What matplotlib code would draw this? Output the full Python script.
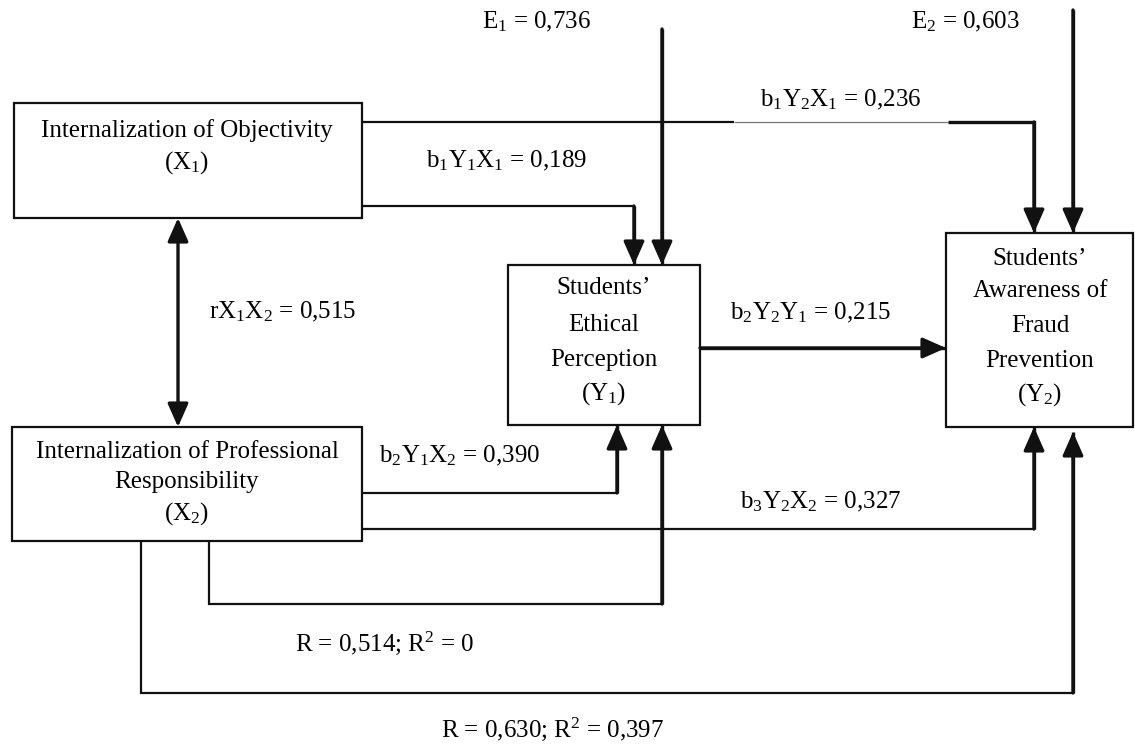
import matplotlib
matplotlib.use("Agg")
import matplotlib.pyplot as plt
from matplotlib.patches import Rectangle

plt.rcParams['font.family'] = ['Liberation Serif', 'DejaVu Serif']
plt.rcParams['mathtext.fontset'] = 'custom'
plt.rcParams['mathtext.rm'] = 'Liberation Serif'
plt.rcParams['mathtext.it'] = 'Liberation Serif:italic'
plt.rcParams['mathtext.default'] = 'rm'

# variables (box labels)
x1_label = ["Internalization of Objectivity", r"(X$_1$)"]
x2_label = ["Internalization of Professional", "Responsibility", r"(X$_2$)"]
y1_label = ["Students\u2019", "Ethical", "Perception", r"(Y$_1$)"]
y2_label = ["Students\u2019", "Awareness of", "Fraud", "Prevention", r"(Y$_2$)"]

# path coefficients
coef_names = [r"E$_1$", r"E$_2$", r"b$_1$Y$_2$X$_1$", r"b$_1$Y$_1$X$_1$", r"rX$_1$X$_2$",
              r"b$_2$Y$_2$Y$_1$", r"b$_2$Y$_1$X$_2$", r"b$_3$Y$_2$X$_2$"]
coef_values = ["0,736", "0,603", "0,236", "0,189", "0,515", "0,215", "0,390", "0,327"]
r_model1 = ["0,514", "0"]
r_model2 = ["0,630", "0,397"]

# layout in pixel coordinates (y down)
fig = plt.figure(figsize=(11.35, 7.46), dpi=100)
ax = fig.add_axes([0, 0, 1, 1])
ax.set_xlim(0, 1135)
ax.set_ylim(746, 0)
ax.axis('off')

FS = 18
BOX_LW = 1.6
THICK = 2.4
INK = '#111111'


def box(x0, y0, x1, y1):
    ax.add_patch(Rectangle((x0, y0), x1 - x0, y1 - y0, fill=False, lw=BOX_LW, ec=INK))


def lines(xs, ys, lw=BOX_LW, color=INK):
    ax.plot(xs, ys, color=color, lw=lw, solid_capstyle='butt', solid_joinstyle='miter')


def path_arrow(xs, ys, lw=THICK):
    # polyline with arrow head on last segment
    ax.plot(xs, ys, color=INK, lw=lw, solid_capstyle='butt', solid_joinstyle='miter')
    ax.annotate('', xy=(xs[-1], ys[-1]), xytext=(xs[-2], ys[-2]),
                arrowprops=dict(arrowstyle='-|>,head_length=0.95,head_width=0.42',
                                mutation_scale=15, lw=lw, color=INK,
                                shrinkA=0, shrinkB=0))


def multiline(lbls, cx, ys):
    for t, y in zip(lbls, ys):
        ax.text(cx, y, t, ha='center', va='center', fontsize=FS)


# boxes
box(14, 103, 362, 218)
box(12, 427, 362, 541)
box(508, 265, 700, 425)
box(946, 233, 1133, 427)

multiline(x1_label, 187, [131, 163])
multiline(x2_label, 187, [452, 482, 514])
multiline(y1_label, 604, [288, 325, 360, 394])
multiline(y2_label, 1040, [259, 291, 326, 361, 395])

# E1 and E2 error arrows
path_arrow([662, 662], [29, 265])
path_arrow([1073, 1073], [10, 233])

# X1 -> Y2 (top line, with a thin gray middle segment)
lines([362, 734], [122, 122])
lines([734, 948], [122, 122], lw=0.9, color='#777777')
path_arrow([948, 1034, 1034], [122, 122, 233])

# X1 -> Y1
lines([362, 634], [206, 206])
path_arrow([634, 634], [206, 265])

# X1 <-> X2
ax.annotate('', xy=(178, 427), xytext=(178, 218),
            arrowprops=dict(arrowstyle='<|-|>,head_length=0.95,head_width=0.42',
                            mutation_scale=15, lw=THICK, color=INK,
                            shrinkA=0, shrinkB=0))

# Y1 -> Y2
path_arrow([700, 946], [348, 348])

# X2 -> Y1
lines([362, 617], [493, 493])
path_arrow([617, 617], [493, 425])

# X2 -> Y2
lines([362, 1034], [529, 529])
path_arrow([1034, 1034], [529, 427])

# X2 -> Y1 (regression model 1)
lines([209, 209, 662], [541, 604, 604])
path_arrow([662, 662], [604, 425])

# X2 -> Y2 (regression model 2)
lines([141, 141, 1073], [541, 693, 693])
path_arrow([1073, 1073], [693, 432])

# coefficient labels
label_pos = [(536, 22), (965, 22), (841, 100), (507, 161), (283, 312),
             (811, 313), (460, 456), (821, 502)]
for name, val, (x, y) in zip(coef_names, coef_values, label_pos):
    ax.text(x, y, f"{name} = {val}", ha='center', va='center', fontsize=FS)

ax.text(385, 643, f"R = {r_model1[0]}; R$^2$ = {r_model1[1]}", ha='center', va='center', fontsize=FS)
ax.text(553, 729, f"R = {r_model2[0]}; R$^2$ = {r_model2[1]}", ha='center', va='center', fontsize=FS)

fig.savefig("out.png", dpi=100, facecolor='white')
